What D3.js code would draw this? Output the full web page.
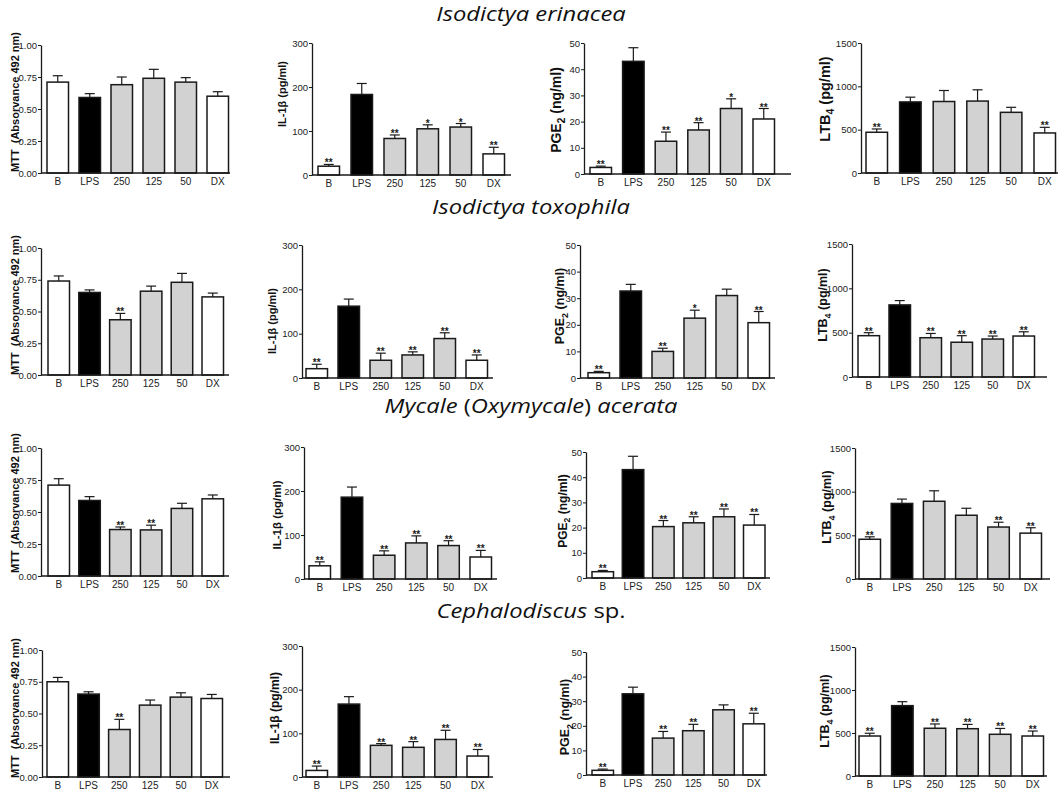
<!DOCTYPE html>
<html>
<head>
<meta charset="utf-8">
<script src="https://cdn.jsdelivr.net/npm/d3@7"></script>
<style>
  body { margin: 0; background: #fff; }
  svg { display: block; }
</style>
</head>
<body>
<div id="chart"></div>
<script>
// treatment groups on every x axis
const groups = ['B', 'LPS', '250', '125', '50', 'DX'];

// species titles, one per row (italic flag per piece)
const speciesTitles = [
  [['Isodictya erinacea', true]],
  [['Isodictya toxophila', true]],
  [['Mycale', true], [' (', false], ['Oxymycale', true], [') ', false], ['acerata', true]],
  [['Cephalodiscus', true], [' sp.', false]]
];

// MTT (absorbance 492 nm)
const mttTicks = [0, 0.25, 0.5, 0.75, 1.0];
const mttMean = [
  [0.71, 0.59, 0.69, 0.74, 0.71, 0.60],
  [0.74, 0.65, 0.435, 0.66, 0.73, 0.615],
  [0.71, 0.59, 0.363, 0.36, 0.528, 0.603],
  [0.75, 0.653, 0.374, 0.566, 0.629, 0.618]
];
const mttSem = [
  [0.05, 0.03, 0.06, 0.07, 0.035, 0.035],
  [0.04, 0.02, 0.05, 0.04, 0.07, 0.03],
  [0.05, 0.03, 0.02, 0.037, 0.04, 0.03],
  [0.034, 0.018, 0.08, 0.04, 0.034, 0.032]
];
const mttSig = [
  ['', '', '', '', '', ''],
  ['', '', '**', '', '', ''],
  ['', '', '**', '**', '', ''],
  ['', '', '**', '', '', '']
];

// IL-1beta (pg/ml)
const ilTicks = [0, 100, 200, 300];
const ilMean = [
  [20, 183, 83, 105, 109, 48],
  [21, 162, 40, 52, 89, 40],
  [30, 186, 54, 82, 76, 50],
  [15, 167, 72.5, 68, 86, 48]
];
const ilSem = [
  [4, 25, 8, 9, 8, 15],
  [10, 16, 16, 7, 13, 12],
  [9, 23, 10, 16, 11, 15],
  [10, 17, 4, 13, 21, 15]
];
const ilSig = [
  ['**', '', '**', '*', '*', '**'],
  ['**', '', '**', '**', '**', '**'],
  ['**', '', '**', '**', '**', '**'],
  ['**', '', '**', '**', '**', '**']
];

// PGE2 (ng/ml)
const pgeTicks = [0, 10, 20, 30, 40, 50];
const pgeMean = [
  [2.5, 43, 12.5, 16.8, 25, 21],
  [2, 32.7, 10, 22.5, 31, 20.8],
  [2.5, 43, 20.4, 21.9, 24.3, 21],
  [1.9, 33, 15, 18, 26.5, 20.8]
];
const pgeSem = [
  [0.5, 5.2, 3.5, 2.8, 3.7, 4],
  [0.5, 2.5, 1.2, 3, 2.4, 4.2],
  [0.5, 5.3, 2.4, 2.4, 3.1, 4.2],
  [0.5, 2.7, 2.7, 2.6, 2, 4.3]
];
const pgeSig = [
  ['**', '', '**', '**', '*', '**'],
  ['**', '', '**', '*', '', '**'],
  ['**', '', '**', '**', '**', '**'],
  ['**', '', '**', '**', '', '**']
];

// LTB4 (pg/ml)
const ltbTicks = [0, 500, 1000, 1500];
const ltbMean = [
  [470, 820, 825, 830, 700, 462],
  [466, 813, 443, 392, 428, 462],
  [455, 865, 890, 730, 595, 525],
  [465, 818, 555, 550, 485, 465]
];
const ltbSem = [
  [38, 55, 127, 130, 58, 65],
  [34, 49, 48, 74, 34, 48],
  [28, 50, 120, 80, 55, 62],
  [32, 46, 50, 50, 68, 58]
];
const ltbSig = [
  ['**', '', '', '', '', '**'],
  ['**', '', '**', '**', '**', '**'],
  ['**', '', '', '', '**', '**'],
  ['**', '', '**', '**', '**', '**']
];

const measures = [
  { label: [['MTT  (Absorvance 492 nm)', false]], ticks: mttTicks, fmt: d3.format('.2f'), mean: mttMean, sem: mttSem, sig: mttSig },
  { label: [['IL-1\u03b2 (pg/ml)', false]], ticks: ilTicks, fmt: d3.format('d'), mean: ilMean, sem: ilSem, sig: ilSig },
  { label: [['PGE', false], ['2', true], [' (ng/ml)', false]], ticks: pgeTicks, fmt: d3.format('d'), mean: pgeMean, sem: pgeSem, sig: pgeSig },
  { label: [['LTB', false], ['4', true], [' (pg/ml)', false]], ticks: ltbTicks, fmt: d3.format('d'), mean: ltbMean, sem: ltbSem, sig: ltbSig }
];

// panel placement (pixels): axis x, axis end, first bar left, bar step, top tick y, zero y,
// label x, label y, label font size
const layout = [
  [
    { ax: 41, ae: 230, b0: 47, step: 32, top: 45, bottom: 173, lx: 15, ly: 102, fs: 11 },
    { ax: 312, ae: 511, b0: 318, step: 33, top: 43, bottom: 175, lx: 282, ly: 94, fs: 11 },
    { ax: 584, ae: 791, b0: 590, step: 32.6, top: 43, bottom: 174, lx: 556, ly: 110, fs: 14 },
    { ax: 861, ae: 1058, b0: 866, step: 33.6, top: 43, bottom: 173, lx: 825, ly: 99, fs: 14.5 }
  ],
  [
    { ax: 41, ae: 229, b0: 48, step: 30.8, top: 248, bottom: 375, lx: 15, ly: 305, fs: 11 },
    { ax: 302, ae: 493, b0: 306, step: 32, top: 245, bottom: 378, lx: 272, ly: 321, fs: 11 },
    { ax: 580, ae: 775, b0: 588, step: 32, top: 245, bottom: 378, lx: 560, ly: 306, fs: 12.5 },
    { ax: 852, ae: 1047, b0: 858, step: 31, top: 244, bottom: 377, lx: 823, ly: 305, fs: 12.5 }
  ],
  [
    { ax: 41, ae: 229, b0: 48, step: 30.8, top: 448, bottom: 576, lx: 15, ly: 503, fs: 11 },
    { ax: 304, ae: 497, b0: 309, step: 32.2, top: 447, bottom: 579, lx: 277, ly: 515, fs: 11.5 },
    { ax: 586, ae: 770, b0: 592, step: 30.3, top: 452, bottom: 578, lx: 563, ly: 511, fs: 12 },
    { ax: 855, ae: 1050, b0: 859, step: 32.2, top: 448, bottom: 579, lx: 827, ly: 507, fs: 12.5 }
  ],
  [
    { ax: 42, ae: 230, b0: 47, step: 30.8, top: 650, bottom: 777, lx: 15, ly: 708, fs: 11 },
    { ax: 302, ae: 493, b0: 306, step: 32.2, top: 646, bottom: 777, lx: 275, ly: 708, fs: 12 },
    { ax: 586, ae: 767, b0: 592, step: 30.2, top: 652, bottom: 775, lx: 565, ly: 717, fs: 12.5 },
    { ax: 855, ae: 1047, b0: 859, step: 32.6, top: 647, bottom: 776, lx: 825, ly: 711, fs: 12.5 }
  ]
];
const titleY = [21, 214, 413, 618];

const width = 1063, height = 795;
const barWidth = 21.5;
const ink = '#1a1a1a';
const sans = '"Liberation Sans", Arial, sans-serif';
const fillFor = i => (i === 1 ? '#000' : (i >= 2 && i <= 4 ? '#d2d2d2' : '#fff'));

const svg = d3.select('#chart').append('svg')
  .attr('width', width)
  .attr('height', height)
  .style('font-family', sans);

speciesTitles.forEach((parts, r) => {
  const t = svg.append('text')
    .attr('transform', `translate(531,${titleY[r]}) scale(1.22,1)`)
    .attr('text-anchor', 'middle')
    .attr('xml:space', 'preserve')
    .style('font-family', '"Open Sans", Lato, sans-serif')
    .style('font-size', '19.5px')
    .attr('fill', '#111');
  parts.forEach(([s, it]) => {
    t.append('tspan').text(s).style('font-style', it ? 'italic' : 'normal');
  });
});

layout.forEach((rowGeom, r) => {
  rowGeom.forEach((g, c) => {
    const m = measures[c];
    const yMax = m.ticks[m.ticks.length - 1];
    const y = d3.scaleLinear().domain([0, yMax]).range([g.bottom, g.top]);
    const x = d3.scaleBand()
      .domain(groups)
      .range([g.b0, g.b0 + 5 * g.step + barWidth])
      .paddingInner(1 - barWidth / g.step)
      .paddingOuter(0);

    const panel = svg.append('g');

    const means = m.mean[r], sems = m.sem[r], sig = m.sig[r];

    // error bars (upper only)
    const eb = panel.append('g').attr('stroke', ink).attr('stroke-width', 1.2);
    groups.forEach((grp, i) => {
      const cx = x(grp) + x.bandwidth() / 2;
      eb.append('line')
        .attr('x1', cx).attr('x2', cx)
        .attr('y1', y(means[i])).attr('y2', y(means[i] + sems[i]));
      eb.append('line')
        .attr('x1', cx - 5).attr('x2', cx + 5)
        .attr('y1', y(means[i] + sems[i])).attr('y2', y(means[i] + sems[i]));
    });

    // bars
    panel.append('g').selectAll('rect')
      .data(groups)
      .join('rect')
      .attr('x', d => x(d))
      .attr('y', (d, i) => y(means[i]))
      .attr('width', x.bandwidth())
      .attr('height', (d, i) => y(0) - y(means[i]))
      .attr('fill', (d, i) => fillFor(i))
      .attr('stroke', ink)
      .attr('stroke-width', 1.5);

    // significance marks
    panel.append('g').selectAll('text')
      .data(groups)
      .join('text')
      .attr('x', d => x(d) + x.bandwidth() / 2)
      .attr('y', (d, i) => y(means[i] + sems[i]) + 2)
      .attr('text-anchor', 'middle')
      .style('font-size', '10px')
      .style('font-weight', 'bold')
      .attr('fill', ink)
      .text((d, i) => sig[i]);

    // y axis
    const yAxis = panel.append('g')
      .attr('transform', `translate(${g.ax},0)`)
      .call(d3.axisLeft(y).tickValues(m.ticks).tickFormat(m.fmt).tickSize(3).tickPadding(1).tickSizeOuter(0));
    yAxis.select('.domain').attr('stroke', ink).attr('stroke-width', 1.3);
    yAxis.selectAll('.tick line').attr('stroke', ink);
    yAxis.selectAll('.tick text').attr('fill', '#222').style('font-size', '9.5px').style('font-family', sans);

    // x axis line and labels
    panel.append('line')
      .attr('x1', g.ax).attr('x2', g.ae)
      .attr('y1', g.bottom).attr('y2', g.bottom)
      .attr('stroke', ink).attr('stroke-width', 1.3);
    panel.append('g').selectAll('text')
      .data(groups)
      .join('text')
      .attr('x', d => x(d) + x.bandwidth() / 2)
      .attr('y', g.bottom + 11.5)
      .attr('text-anchor', 'middle')
      .style('font-size', '10px')
      .attr('fill', '#222')
      .text(d => d);

    // y label
    const subShift = g.fs * 0.27;
    const lab = panel.append('text')
      .attr('transform', `translate(${g.lx},${g.ly}) rotate(-90)`)
      .attr('text-anchor', 'middle')
      .attr('dy', '0.35em')
      .attr('xml:space', 'preserve')
      .style('font-size', g.fs + 'px')
      .style('font-weight', 'bold')
      .attr('fill', '#111');
    m.label.forEach(([s, sub]) => {
      if (sub) {
        lab.append('tspan').text(s).style('font-size', (g.fs * 0.72) + 'px').attr('dy', subShift);
      } else {
        const ts = lab.append('tspan').text(s);
        if (s.startsWith(' ')) ts.attr('dy', -subShift);
      }
    });
  });
});
</script>
</body>
</html>
